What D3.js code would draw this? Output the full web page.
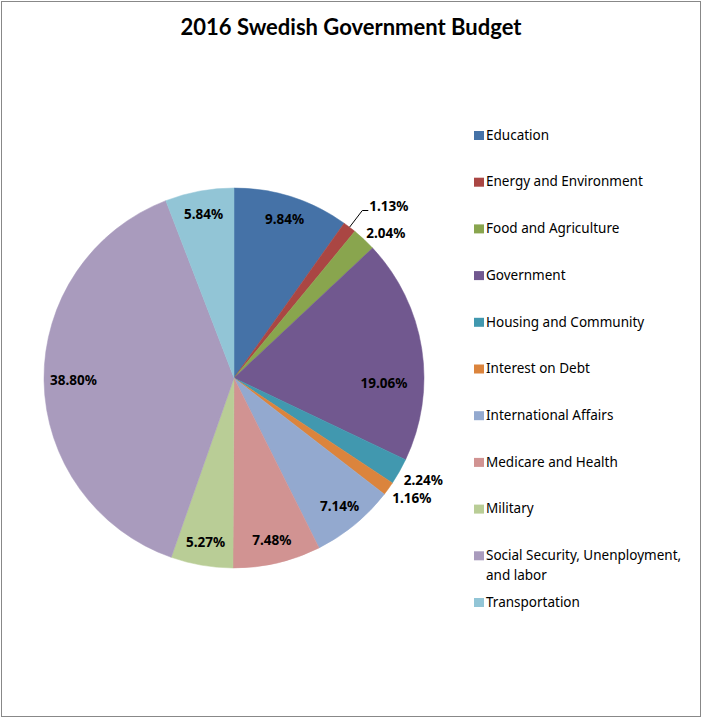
<!doctype html>
<html lang="en">
<head>
  <meta charset="utf-8">
  <title>2016 Swedish Government Budget</title>
  <style>
    body { margin: 0; background: #fff; }
    svg { display: block; }
    text { font-family: "Noto Sans", sans-serif; fill: #000; }
    .title { font-family: Lato, sans-serif; font-weight: 700; font-size: 22px; }
    .lbl { font-weight: 700; font-size: 13.5px; }
    .leg { font-size: 13.5px; }
  </style>
</head>
<body>
<svg id="chart"></svg>
<script src="https://d3js.org/d3.v7.min.js"></script>
<script>
// data (percent of total budget)
const categories = [
  "Education",
  "Energy and Environment",
  "Food and Agriculture",
  "Government",
  "Housing and Community",
  "Interest on Debt",
  "International Affairs",
  "Medicare and Health",
  "Military",
  "Social Security, Unenployment, and labor",
  "Transportation",
];
const values = [9.84, 1.13, 2.04, 19.06, 2.24, 1.16, 7.14, 7.48, 5.27, 38.80, 5.84];
const colors = [
  "#4572A7", "#AA4643", "#89A54E", "#71588F", "#4198AF", "#DB843D",
  "#93A9CF", "#D19392", "#B9CD96", "#A99BBD", "#92C5D6",
];
// legend wraps this one onto two lines
const legendLines = {
  "Social Security, Unenployment, and labor": ["Social Security, Unenployment,", "and labor"],
};

const W = 703, H = 718;
const cx = 234, cy = 378, R = 190;

const svg = d3.select("#chart").attr("width", W).attr("height", H);

// chart frame
svg.append("rect")
  .attr("x", 1.5).attr("y", 1.5)
  .attr("width", W - 4).attr("height", H - 3)
  .attr("fill", "#fff").attr("stroke", "#888").attr("stroke-width", 1);

svg.append("text")
  .attr("class", "title")
  .attr("x", 351).attr("y", 35)
  .attr("text-anchor", "middle")
  .text("2016 Swedish Government Budget");

const rows = categories.map((c, i) => ({ name: c, value: values[i], color: colors[i] }));

const pie = d3.pie().value(d => d.value).sort(null);
const arcs = pie(rows);
const arc = d3.arc().innerRadius(0).outerRadius(R);

const g = svg.append("g").attr("transform", `translate(${cx},${cy})`);

g.selectAll("path.slice")
  .data(arcs)
  .enter().append("path")
  .attr("class", "slice")
  .attr("d", arc)
  .attr("fill", d => d.data.color)
  .attr("stroke", d => d.data.color)
  .attr("stroke-width", 0.5);

// ---- data labels (Excel "best fit"-ish) ----
const OUTSIDE_LIMIT = 2.5;          // small slices get their label outside
const withLeader = new Set(["Energy and Environment"]);
// Excel nudged this one inward, away from the rim
const labelTweak = { "Government": { da: 11 * Math.PI / 180, r: 150 } };

const mid = d => (d.startAngle + d.endAngle) / 2;
const polar = (a, r) => [Math.sin(a) * r, -Math.cos(a) * r];
const fmt = v => v.toFixed(2) + "%";

arcs.forEach(d => {
  const a = mid(d);
  const name = d.data.name;
  if (d.data.value >= OUTSIDE_LIMIT) {
    const t = labelTweak[name];
    const [x, y] = t ? polar(a + t.da, t.r) : polar(a, R * (d.data.value > 30 ? 0.845 : 0.875));
    g.append("text").attr("class", "lbl")
      .attr("x", x).attr("y", y).attr("dy", "0.35em")
      .attr("text-anchor", "middle")
      .text(fmt(d.data.value));
  } else if (withLeader.has(name)) {
    const [x0, y0] = polar(a, R);
    const [x1, y1] = polar(a, R + 21);
    g.append("path")
      .attr("d", `M${x0},${y0}L${x1},${y1}H${x1 + 6}`)
      .attr("fill", "none").attr("stroke", "#000").attr("stroke-width", 1);
    g.append("text").attr("class", "lbl")
      .attr("x", x1 + 7).attr("y", y1 - 4).attr("dy", "0.35em")
      .text(fmt(d.data.value));
  } else {
    const [x, y] = polar(a, R + 12);
    g.append("text").attr("class", "lbl")
      .attr("x", x - 6).attr("y", y + 3).attr("dy", "0.35em")
      .text(fmt(d.data.value));
  }
});

// ---- legend ----
const ly = d3.scaleLinear().domain([0, categories.length - 1]).range([135, 602]);
const leg = svg.append("g");
rows.forEach((r, i) => {
  const y = ly(i);
  leg.append("rect")
    .attr("x", 474).attr("y", y - 4)
    .attr("width", 10).attr("height", 9)
    .attr("fill", r.color);
  const lines = legendLines[r.name] || [r.name];
  const t = leg.append("text").attr("class", "leg").attr("x", 486).attr("y", y).attr("dy", "0.35em");
  lines.forEach((ln, k) => {
    t.append("tspan").attr("x", 486).attr("dy", k === 0 ? "0.35em" : "20").text(ln);
  });
});
</script>
</body>
</html>
